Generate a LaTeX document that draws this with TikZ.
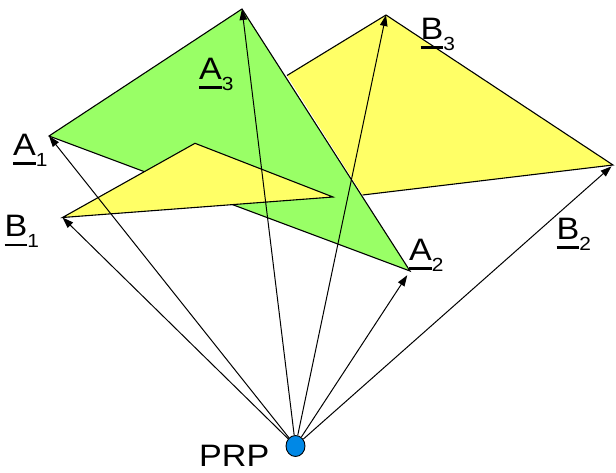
\documentclass[tikz,border=0pt]{standalone}
\usepackage{fontspec}
\setmainfont{Liberation Sans}
\newfontfamily\labelfont[FakeStretch=1.1]{Liberation Sans}
\usetikzlibrary{shapes.geometric, arrows.meta}

\definecolor{facegreen}{RGB}{153,255,102}
\definecolor{faceyellow}{RGB}{255,255,102}
\definecolor{prpblue}{RGB}{0,136,230}

% underlined vertex name with a lowered index
\newcommand{\vname}[2]{%
  \setbox0\hbox{#1}\rlap{\rule[-9.5pt]{\wd0}{2.4pt}}\box0%
  \raisebox{-11pt}{\fontsize{19}{19}\selectfont #2}}

\begin{document}
\begin{tikzpicture}[
  x=1pt, y=-1pt,
  face/.style={draw, line width=1.1pt, line join=miter},
  ray/.style={-{Triangle[length=11pt, width=7.5pt]}, line width=1pt},
  vlabel/.style={anchor=base west, inner sep=0pt,
                 font=\labelfont\fontsize{31}{34}\selectfont}
]
\useasboundingbox (0,0) rectangle (616,472);

% ---- vertices ----
\coordinate (A1) at (49,136);
\coordinate (A2) at (410,271);
\coordinate (A3) at (242,9);
\coordinate (B1) at (62.5,217.5);
\coordinate (B2) at (613,165);
\coordinate (B3) at (386,15);

% ---- where B meets A ----
\coordinate (Bt) at (195,143.3);
\coordinate (Bm) at (333,197);
\coordinate (Bl) at (287,75.5);
\coordinate (Br) at (362.6,195);

% ---- triangle B, back part ----
\fill[faceyellow] (Bl) -- (B3) -- (B2) -- (Br) -- cycle;
\draw[line width=1.1pt] (Bl) -- (B3) -- (B2) -- (Br);

% ---- triangle A ----
\filldraw[face, fill=facegreen] (A1) -- (A3) -- (A2) -- cycle;

% ---- triangle B, front part ----
\filldraw[face, fill=faceyellow] (B1) -- (Bt) -- (Bm) -- cycle;

% ---- projection reference point ----
\node[ellipse, draw, fill=prpblue, line width=0.9pt,
      minimum width=19pt, minimum height=21pt, inner sep=0pt]
  (prp) at (295.5,446) {};

% ---- rays ----
\foreach \v in {A1,A3,B1,B3}
  \draw[ray] (prp) -- (\v);
\draw[ray, shorten >=5pt] (prp) -- (A2);
\draw[ray, shorten >=2pt] (prp) -- (B2);

% ---- labels ----
\node[vlabel] (lA1) at (13,155) {\vname{A}{1}};
\node[vlabel] (lA2) at (409,260) {\vname{A}{2}};
\node[vlabel] (lA3) at (199,79) {\vname{A}{3}};
\node[vlabel] (lB1) at (4.5,236.5) {\vname{B}{1}};
\node[vlabel] (lB2) at (556.5,239) {\vname{B}{2}};
\node[vlabel] (lB3) at (420.5,39) {\vname{B}{3}};
\node[vlabel, text depth=0pt] (lprp) at (199,466.5) {PRP};

\end{tikzpicture}
\end{document}
